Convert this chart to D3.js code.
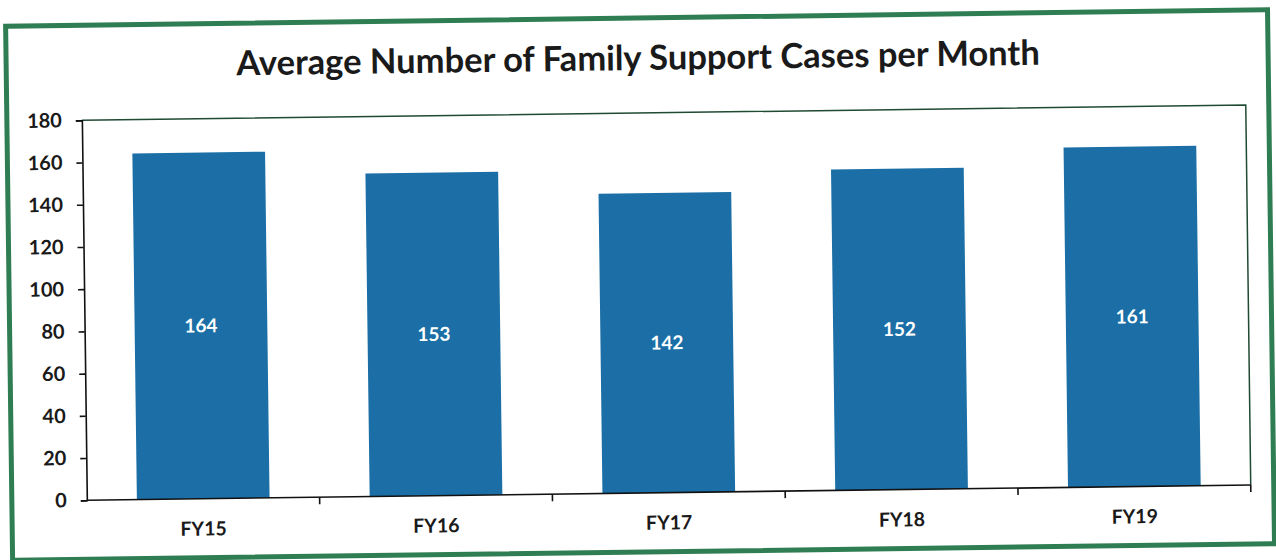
<!DOCTYPE html>
<meta charset="utf-8">
<style>
body { margin: 0; background: #fff; }
text { font-family: Lato, "Open Sans", sans-serif; font-weight: bold; fill: #1a1a1a; }
</style>
<svg width="1276" height="560"></svg>
<script src="https://d3js.org/d3.v7.min.js"></script>
<script>

var years = ["FY15", "FY16", "FY17", "FY18", "FY19"];
var cases = [164, 153, 142, 152, 161];
var yTicks = [0, 20, 40, 60, 80, 100, 120, 140, 160, 180];

var svg = d3.select("svg"),
    width = +svg.attr("width"),
    height = +svg.attr("height");

// the scan is a little tilted
var g = svg.append("g").attr("transform", "rotate(-0.75,640,280)");

// outer green frame
g.append("rect")
    .attr("x", 9).attr("y", 18)
    .attr("width", 1262).attr("height", 534)
    .attr("fill", "#fff")
    .attr("stroke", "#2f7d52")
    .attr("stroke-width", 5);

g.append("text")
    .attr("x", 641).attr("y", 70)
    .attr("text-anchor", "middle")
    .style("font-size", "34.5px")
    .text("Average Number of Family Support Cases per Month");

var margin = {left: 84, right: 1248, top: 113, bottom: 493};

var x = d3.scaleBand().domain(years).range([margin.left, margin.right]).paddingInner(0.43).paddingOuter(0.215);
var xb = d3.scaleBand().domain(years).range([margin.left, margin.right]);
var y = d3.scaleLinear().domain([0, 180]).range([margin.bottom, margin.top]);

// plot area border
g.append("path")
    .attr("d", "M" + margin.left + "," + margin.top + "H" + margin.right + "V" + margin.bottom)
    .attr("fill", "none").attr("stroke", "#1f4a33").attr("stroke-width", 1.5);

g.selectAll("rect.bar")
    .data(cases)
  .enter().append("rect")
    .attr("class", "bar")
    .attr("x", function(d, i) { return x(years[i]); })
    .attr("width", x.bandwidth())
    .attr("y", function(d) { return y(d); })
    .attr("height", function(d) { return y(0) - y(d); })
    .attr("fill", "#1b6fa6");

g.selectAll("text.val")
    .data(cases)
  .enter().append("text")
    .attr("class", "val")
    .attr("x", function(d, i) { return x(years[i]) + x.bandwidth() / 2; })
    .attr("y", function(d) { return (y(d) + y(0)) / 2; })
    .attr("dy", "0.35em")
    .attr("text-anchor", "middle")
    .style("font-size", "19px")
    .style("fill", "#fff")
    .text(function(d) { return d; });

// y axis
var yAxis = g.append("g")
    .attr("transform", "translate(" + margin.left + ",0)")
    .call(d3.axisLeft(y).tickValues(yTicks).tickSize(6).tickPadding(14));
yAxis.selectAll("text").style("font-size", "20px").style("font-family", "Lato, sans-serif").attr("fill", "#1a1a1a");
yAxis.selectAll("line, path").attr("stroke", "#111").attr("stroke-width", 1.6);

// x axis: ticks at category boundaries
var xAxis = g.append("g").attr("transform", "translate(0," + margin.bottom + ")");
xAxis.append("line")
    .attr("x1", margin.left).attr("x2", margin.right)
    .attr("stroke", "#111").attr("stroke-width", 1.6);
xAxis.selectAll("line.tk")
    .data(years.slice(1).concat(["end"]))
  .enter().append("line")
    .attr("class", "tk")
    .attr("x1", function(d, i) { return i < years.length - 1 ? xb(d) : margin.right; })
    .attr("x2", function(d, i) { return i < years.length - 1 ? xb(d) : margin.right; })
    .attr("y1", 0).attr("y2", 7)
    .attr("stroke", "#111").attr("stroke-width", 1.6);
xAxis.selectAll("text")
    .data(years)
  .enter().append("text")
    .attr("x", function(d) { return xb(d) + xb.bandwidth() / 2; })
    .attr("y", 30)
    .attr("dy", "0.35em")
    .attr("text-anchor", "middle")
    .style("font-size", "19.5px")
    .text(function(d) { return d; });

</script>
